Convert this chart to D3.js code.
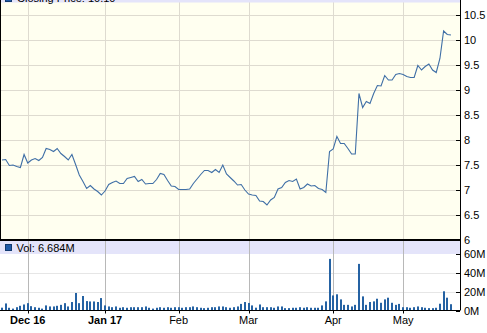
<!DOCTYPE html>
<html>
<head>
<meta charset="utf-8">
<script src="https://cdn.jsdelivr.net/npm/d3@7"></script>
<style>
  html, body { margin: 0; padding: 0; background: #fff; }
  svg { display: block; font-family: "Liberation Sans", Arial, sans-serif; }
</style>
</head>
<body>
<div id="chart"></div>
<script>
// closing prices, one per trading day (late Nov 2016 .. mid May 2017)
const closePrices = [
  7.60, 7.61, 7.49, 7.50, 7.47, 7.45, 7.71, 7.54, 7.60, 7.63,
  7.59, 7.65, 7.83, 7.81, 7.77, 7.83, 7.73, 7.67, 7.60, 7.71,
  7.51, 7.30, 7.17, 7.03, 7.09, 7.02, 6.97, 6.90, 6.98, 7.11,
  7.15, 7.18, 7.13, 7.13, 7.23, 7.25, 7.27, 7.17, 7.21, 7.12,
  7.13, 7.13, 7.21, 7.33, 7.31, 7.19, 7.08, 7.07, 7.01, 7.01,
  7.01, 7.02, 7.13, 7.22, 7.31, 7.39, 7.39, 7.35, 7.41, 7.35,
  7.50, 7.32, 7.25, 7.18, 7.10, 7.11, 7.00, 6.92, 6.90, 6.89,
  6.78, 6.77, 6.70, 6.80, 6.85, 7.02, 7.05, 7.15, 7.19, 7.17,
  7.22, 7.02, 7.05, 7.12, 7.08, 7.09, 7.03, 7.01, 6.95, 7.77,
  7.82, 8.07, 7.93, 7.93, 7.83, 7.72, 7.72, 8.93, 8.65, 8.77,
  8.73, 8.93, 9.09, 9.08, 9.29, 9.20, 9.20, 9.31, 9.33, 9.31,
  9.27, 9.25, 9.25, 9.49, 9.40, 9.47, 9.52, 9.40, 9.35, 9.63,
  10.18, 10.11, 10.10
];

// daily volume in millions
const volumes = [
  3.0, 7.5, 2.9, 2.0, 3.5, 5.0, 6.4, 7.8, 4.6, 3.5,
  2.9, 2.0, 5.4, 4.3, 4.3, 5.0, 6.0, 7.8, 4.3, 9.0,
  18.6, 7.8, 15.4, 10.0, 9.6, 9.6, 9.0, 13.2, 5.4, 4.3,
  3.5, 4.3, 2.9, 3.5, 2.9, 3.5, 3.5, 3.5, 3.5, 4.3,
  2.9, 2.0, 2.9, 3.5, 2.9, 3.5, 2.9, 3.5, 3.5, 2.9,
  3.5, 3.5, 4.3, 3.5, 2.9, 2.5, 2.9, 3.5, 3.5, 4.3,
  4.3, 3.5, 2.9, 3.5, 4.3, 7.0, 9.0, 8.0, 5.4, 3.0,
  6.4, 3.5, 3.5, 3.5, 2.9, 4.3, 4.3, 2.5, 2.5, 2.9,
  2.9, 3.5, 2.9, 3.5, 2.9, 2.9, 2.9, 5.4, 9.7, 54.8,
  16.0, 17.2, 11.8, 6.0, 6.0, 4.3, 6.0, 49.5, 15.0, 6.0,
  9.0, 9.7, 12.5, 8.2, 11.8, 13.6, 8.2, 6.0, 7.0, 3.5,
  3.5, 2.9, 3.5, 4.3, 3.5, 2.9, 2.5, 2.5, 2.9, 7.2,
  20.4, 13.6, 6.684
];

// month ticks: label and trading-day index
const monthLabels = ["Dec 16", "Jan 17", "Feb", "Mar", "Apr", "May"];
const monthIndex = [7, 28, 48, 67, 90, 109];
const monthBold = [true, true, false, false, false, false];

const priceTicks = [6, 6.5, 7, 7.5, 8, 8.5, 9, 9.5, 10, 10.5];
const volumeTicks = [0, 20, 40, 60];

const closingLabel = "Closing Price: 10.10";
const volumeLabel = "Vol: 6.684M";

const width = 487, height = 333;
const axisX = 460;
const priceTop = -12, priceBottom = 240;
const volTop = 241, volBand = 254, volBottom = 310.5;

const svg = d3.select("#chart").append("svg")
  .attr("width", width)
  .attr("height", height);

//scales
const x = d3.scaleLinear().domain([0, closePrices.length - 1]).range([2, 2 + 3.68 * (closePrices.length - 1)]);
const yPrice = d3.scaleLinear().domain([6, 10.5]).range([240, 15]);
const yVol = d3.scaleLinear().domain([0, 60]).range([volBottom, volBand]);

//clip paths
const defs = svg.append("defs");
defs.append("clipPath").attr("id", "clipPrice")
  .append("rect").attr("x", 1).attr("y", priceTop).attr("width", axisX - 1).attr("height", priceBottom - priceTop);
defs.append("clipPath").attr("id", "clipVol")
  .append("rect").attr("x", 1).attr("y", volTop).attr("width", axisX - 1).attr("height", volBottom - volTop);

// price panel background
svg.append("rect")
  .attr("x", 0).attr("y", priceTop)
  .attr("width", axisX).attr("height", priceBottom - priceTop)
  .attr("fill", "#fffff0");

// price gridlines
svg.append("g").selectAll("line")
  .data(priceTicks.slice(1))
  .join("line")
  .attr("x1", 0).attr("x2", axisX)
  .attr("y1", d => Math.round(yPrice(d)) + 0.5)
  .attr("y2", d => Math.round(yPrice(d)) + 0.5)
  .attr("stroke", "#dedbd0");
svg.append("g").selectAll("line")
  .data(monthIndex)
  .join("line")
  .attr("x1", d => Math.round(x(d)) + 0.5).attr("x2", d => Math.round(x(d)) + 0.5)
  .attr("y1", priceTop).attr("y2", priceBottom)
  .attr("stroke", "#dedbd0");

// price legend band (mostly cropped off the top)
svg.append("rect")
  .attr("x", 0).attr("y", priceTop).attr("width", axisX).attr("height", 14.5)
  .attr("fill", "#e4e4fa");
svg.append("rect")
  .attr("x", 5.5).attr("y", -5.5).attr("width", 6).attr("height", 7)
  .attr("fill", "#1e5aa8").attr("stroke", "#123a70");
svg.append("text")
  .attr("x", 17).attr("y", 1.5)
  .attr("font-size", 11)
  .attr("fill", "#000")
  .text(closingLabel);

// closing price line
const line = d3.line()
  .x((d, i) => x(i))
  .y(d => yPrice(d));
svg.append("path")
  .datum(closePrices)
  .attr("clip-path", "url(#clipPrice)")
  .attr("d", line)
  .attr("fill", "none")
  .attr("stroke", "#3f6fa6")
  .attr("stroke-width", 1.1);

// left border of price panel
svg.append("line")
  .attr("x1", 0.5).attr("x2", 0.5)
  .attr("y1", priceTop).attr("y2", priceBottom)
  .attr("stroke", "#000");

// volume panel
svg.append("rect")
  .attr("x", 0).attr("y", volTop)
  .attr("width", axisX).attr("height", volBottom - volTop)
  .attr("fill", "#fff");
svg.append("rect")
  .attr("x", 0).attr("y", volTop)
  .attr("width", axisX).attr("height", volBand - volTop)
  .attr("fill", "#e4e4fa");

svg.append("g").selectAll("line")
  .data(volumeTicks.slice(1, 3))
  .join("line")
  .attr("x1", 0).attr("x2", axisX)
  .attr("y1", d => Math.round(yVol(d)) + 0.5)
  .attr("y2", d => Math.round(yVol(d)) + 0.5)
  .attr("stroke", "#e6e6e6");
svg.append("g").selectAll("line")
  .data(monthIndex)
  .join("line")
  .attr("x1", d => Math.round(x(d)) + 0.5).attr("x2", d => Math.round(x(d)) + 0.5)
  .attr("y1", volTop).attr("y2", volBottom)
  .attr("stroke", "#b8b8b8");

// volume legend
svg.append("rect")
  .attr("x", 5.5).attr("y", 244.5).attr("width", 6).attr("height", 6)
  .attr("fill", "#1e5aa8").attr("stroke", "#123a70");
svg.append("text")
  .attr("x", 16.5).attr("y", 252)
  .attr("font-size", 11)
  .attr("fill", "#000")
  .text(volumeLabel);

// volume bars
svg.append("g")
  .attr("clip-path", "url(#clipVol)")
  .selectAll("rect")
  .data(volumes)
  .join("rect")
  .attr("x", (d, i) => Math.round(x(i)) - 1)
  .attr("y", d => yVol(d))
  .attr("width", 2)
  .attr("height", d => volBottom - yVol(d))
  .attr("fill", "#2562a3");

// separator between panels
svg.append("line")
  .attr("x1", 0).attr("x2", axisX)
  .attr("y1", 240).attr("y2", 240)
  .attr("stroke", "#000").attr("stroke-width", 2);

// bottom axis
svg.append("line")
  .attr("x1", 0).attr("x2", axisX)
  .attr("y1", volBottom).attr("y2", volBottom)
  .attr("stroke", "#000");
svg.append("g").selectAll("line")
  .data(monthIndex)
  .join("line")
  .attr("x1", d => Math.round(x(d)) + 0.5).attr("x2", d => Math.round(x(d)) + 0.5)
  .attr("y1", volBottom).attr("y2", volBottom + 3)
  .attr("stroke", "#000");
svg.append("g").selectAll("text")
  .data(monthLabels)
  .join("text")
  .attr("x", (d, i) => x(monthIndex[i]))
  .attr("y", 324)
  .attr("text-anchor", "middle")
  .attr("font-size", 11)
  .attr("font-weight", (d, i) => monthBold[i] ? "bold" : "normal")
  .attr("fill", "#000")
  .text(d => d);

// right axis
svg.append("line")
  .attr("x1", axisX + 0.5).attr("x2", axisX + 0.5)
  .attr("y1", priceTop).attr("y2", volBottom)
  .attr("stroke", "#000");

const priceAxis = svg.append("g");
priceAxis.selectAll("line")
  .data(priceTicks)
  .join("line")
  .attr("x1", axisX - 4).attr("x2", axisX)
  .attr("y1", d => Math.round(yPrice(d)) + 0.5)
  .attr("y2", d => Math.round(yPrice(d)) + 0.5)
  .attr("stroke", "#000");
priceAxis.selectAll("text")
  .data(priceTicks)
  .join("text")
  .attr("x", axisX + 4)
  .attr("y", d => yPrice(d) + 4)
  .attr("font-size", 11)
  .attr("fill", "#000")
  .text(d => d3.format("~g")(d));

const volAxis = svg.append("g");
volAxis.selectAll("line")
  .data(volumeTicks)
  .join("line")
  .attr("x1", axisX - 4).attr("x2", axisX)
  .attr("y1", d => Math.round(yVol(d)) + 0.5)
  .attr("y2", d => Math.round(yVol(d)) + 0.5)
  .attr("stroke", "#000");
volAxis.selectAll("text")
  .data(volumeTicks)
  .join("text")
  .attr("x", axisX + 4)
  .attr("y", d => yVol(d) + 4)
  .attr("font-size", 11)
  .attr("fill", "#000")
  .text(d => d + "M");
</script>
</body>
</html>
